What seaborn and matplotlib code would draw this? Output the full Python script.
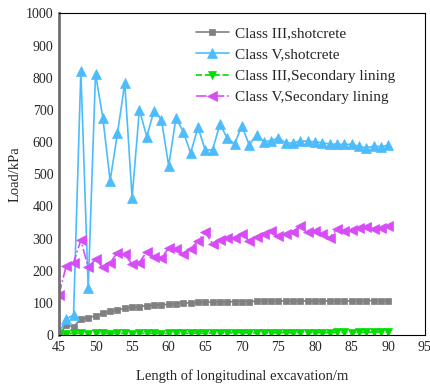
import numpy as np
import pandas as pd
import matplotlib
matplotlib.use("Agg")
import matplotlib.pyplot as plt
import seaborn as sns

# excavation length (m)
length = list(range(45, 91))

class3_shotcrete = [0, 30, 25, 50, 52, 60, 67, 74, 78, 83, 86, 88, 91, 93, 94, 95, 97, 99,
                    100, 101, 102, 102, 103, 103, 104, 104, 104, 105, 105, 105, 105, 106,
                    106, 106, 106, 106, 106, 106, 106, 106, 106, 106, 107, 107, 107, 107]
class5_shotcrete = [5, 50, 62, 822, 145, 812, 676, 480, 627, 783, 427, 701, 617, 698, 670,
                    526, 676, 632, 566, 646, 575, 576, 656, 612, 594, 651, 591, 623, 601,
                    604, 613, 597, 597, 604, 602, 601, 598, 594, 593, 593, 593, 587, 582,
                    587, 586, 590]
class3_lining = [3, 4, 5, 5, 4, 5, 5, 4, 5, 5, 4, 5, 5, 5, 4, 5, 5, 5, 5, 6, 5, 6, 6, 6, 7,
                 7, 6, 6, 7, 6, 7, 7, 6, 7, 7, 7, 7, 7, 8, 8, 7, 8, 8, 9, 9, 10]
class5_lining = [125, 215, 225, 295, 210, 236, 210, 225, 256, 251, 220, 225, 259, 243, 239,
                 270, 268, 251, 267, 293, 319, 284, 295, 301, 301, 314, 293, 305, 314, 322,
                 308, 314, 320, 340, 321, 324, 314, 303, 329, 324, 326, 334, 336, 331, 334,
                 340]

labels = ["Class III,shotcrete", "Class V,shotcrete",
          "Class III,Secondary lining", "Class V,Secondary lining"]

sns.set_style("white")
plt.rcParams["font.family"] = ["Liberation Serif", "DejaVu Serif"]

fig, ax = plt.subplots(figsize=(4.3, 3.85), dpi=100)
fig.subplots_adjust(left=0.137, right=0.988, top=0.965, bottom=0.130)

styles = [
    (class3_shotcrete, "#808080", "s", "-", 5),
    (class5_shotcrete, "#4cbcfc", "^", "-", 6.5),
    (class3_lining, "#00dd00", "v", "--", 6),
    (class5_lining, "#d84cf8", "<", "-.", 6.5),
]
for (vals, color, mk, ls, ms), lab in zip(styles, labels):
    sns.lineplot(x=length, y=vals, ax=ax, color=color, marker=mk, linestyle=ls,
                 markersize=ms, markeredgecolor=color, markeredgewidth=0.5,
                 linewidth=1.2, label=lab)

ax.set_xlim(45, 95)
ax.set_ylim(0, 1000)
ax.set_xticks(range(45, 96, 5))
ax.set_yticks(range(0, 1001, 100))
ax.tick_params(length=0, labelsize=10, pad=4)
ax.set_xlabel("Length of longitudinal excavation/m", fontsize=10.5, labelpad=11)
ax.set_ylabel("Load/kPa", fontsize=10.5, labelpad=3)

for s in ax.spines.values():
    s.set_color("black")
    s.set_linewidth(0.8)
ax.spines["left"].set_color("#707070")
ax.spines["left"].set_linewidth(2)

ax.legend(loc="upper left", bbox_to_anchor=(0.357, 0.978), frameon=False,
          fontsize=11, handlelength=2.2, handletextpad=0.35, labelspacing=0.5,
          borderaxespad=0)

fig.savefig("out.png", dpi=100)
